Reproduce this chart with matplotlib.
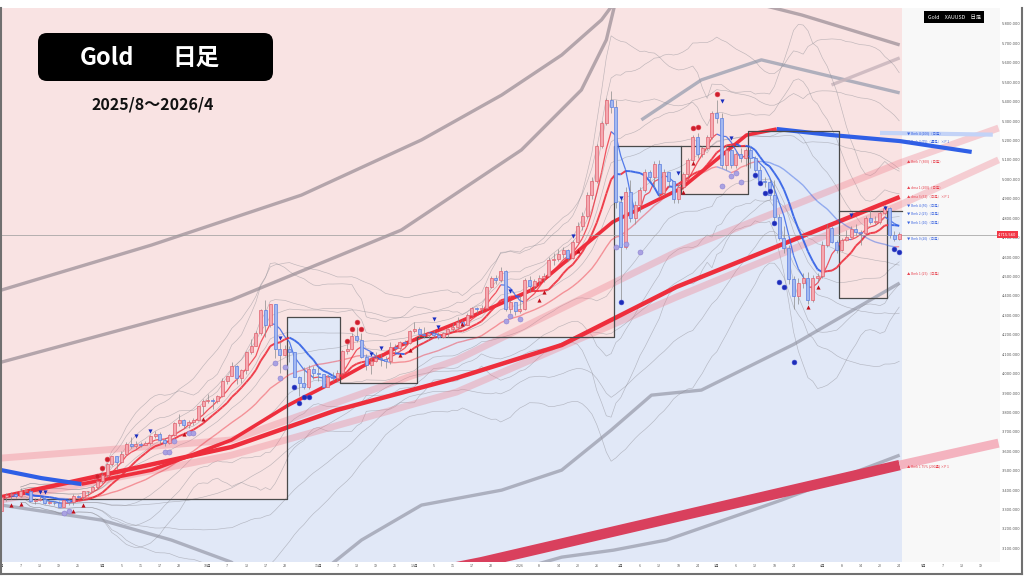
import numpy as np
import pandas as pd
import matplotlib
matplotlib.use("Agg")
import matplotlib.pyplot as plt
import matplotlib.transforms as mtransforms
from matplotlib.patches import FancyBboxPatch
from matplotlib.collections import LineCollection
from matplotlib.lines import Line2D

plt.rcParams['font.family'] = ['Noto Sans CJK JP', 'DejaVu Sans']

# ---- 日足データ (2025/8/1 ～ 2026/4/24) ----
holidays = ['2025-12-25', '2026-01-01', '2026-04-03']
first_open = 3290

aug = [3363, 3373, 3381, 3369, 3397, 3398, 3342, 3348, 3356, 3336, 3336, 3332, 3315, 3347, 3339, 3371, 3365, 3393, 3397, 3416, 3448]
sep = [3476, 3533, 3578, 3545, 3587, 3636, 3626, 3640, 3634, 3643, 3679, 3690, 3659, 3644, 3685, 3746, 3763, 3736, 3749, 3760, 3833, 3858]
oct_ = [3866, 3857, 3886, 3960, 3985, 4040, 3976, 4018, 4110, 4142, 4208, 4326, 4251, 4356, 4125, 4095, 4126, 4111, 3981, 3953, 3930, 4025, 4002]
nov = [4000, 3932, 3980, 3977, 4001, 4116, 4128, 4195, 4171, 4084, 4045, 4067, 4078, 4077, 4065, 4137, 4130, 4163, 4157, 4218]
dec = [4230, 4205, 4200, 4208, 4197, 4190, 4208, 4228, 4240, 4265, 4250, 4303, 4340, 4330, 4340, 4445, 4490, 4480, 4530, 4330, 4370, 4320]
jan = [4330, 4480, 4450, 4475, 4490, 4500, 4585, 4590, 4615, 4636, 4595, 4678, 4760, 4810, 4920, 4990, 5170, 5290, 5409, 5370, 4883]
feb = [4651, 4935, 4800, 4870, 4945, 5040, 5010, 5080, 4930, 5040, 4990, 4900, 4960, 5030, 5100, 5220, 5130, 5160, 5220, 5340]
mar = [5316, 5075, 5150, 5075, 5130, 5110, 5150, 5110, 5050, 4990, 4986, 4920, 4806, 4700, 4646, 4487, 4399, 4466, 4492, 4379, 4492, 4500]
apr = [4662, 4749, 4678, 4636, 4688, 4703, 4744, 4729, 4724, 4800, 4780, 4780, 4826, 4850, 4713, 4693, 4716]

aug_hi = [3365, 3385, 3390, 3390, 3409, 3405, 3404, 3360, 3375, 3360, 3350, 3345, 3345, 3350, 3352, 3378, 3376, 3394, 3398, 3423, 3453]
aug_lo = [3281, 3345, 3355, 3360, 3365, 3380, 3340, 3331, 3345, 3330, 3330, 3323, 3311, 3312, 3325, 3325, 3358, 3351, 3370, 3392, 3404]
sep_hi = [3489, 3540, 3578, 3565, 3600, 3647, 3674, 3655, 3650, 3655, 3685, 3703, 3697, 3670, 3688, 3750, 3791, 3765, 3760, 3770, 3835, 3871]
sep_lo = [3436, 3470, 3525, 3510, 3542, 3585, 3615, 3615, 3620, 3630, 3632, 3670, 3640, 3628, 3640, 3680, 3730, 3720, 3722, 3735, 3758, 3793]
oct_hi = [3895, 3876, 3890, 3976, 3990, 4060, 4045, 4025, 4116, 4180, 4217, 4330, 4380, 4360, 4360, 4160, 4145, 4140, 4110, 3985, 4035, 4046, 4040]
oct_lo = [3850, 3820, 3850, 3880, 3945, 3985, 3945, 3950, 4000, 4100, 4140, 4200, 4190, 4240, 4080, 4005, 4090, 4060, 3980, 3885, 3920, 3920, 3970]
nov_hi = [4035, 4000, 3995, 4010, 4020, 4120, 4150, 4210, 4240, 4210, 4100, 4080, 4110, 4100, 4090, 4160, 4150, 4170, 4175, 4225]
nov_lo = [3960, 3930, 3930, 3960, 3960, 4000, 4100, 4120, 4160, 4080, 4020, 4000, 4060, 4040, 4030, 4050, 4110, 4120, 4140, 4150]
dec_hi = [4265, 4240, 4240, 4215, 4225, 4215, 4215, 4235, 4260, 4290, 4275, 4310, 4345, 4345, 4355, 4450, 4500, 4510, 4550, 4535, 4380, 4370]
dec_lo = [4210, 4190, 4185, 4180, 4190, 4180, 4185, 4190, 4220, 4235, 4240, 4250, 4295, 4310, 4315, 4330, 4440, 4460, 4470, 4320, 4310, 4300]
jan_hi = [4400, 4490, 4500, 4485, 4510, 4520, 4600, 4620, 4640, 4650, 4640, 4690, 4780, 4830, 4935, 5010, 5180, 5300, 5420, 5455, 5410]
jan_lo = [4310, 4325, 4420, 4430, 4455, 4470, 4495, 4560, 4580, 4595, 4580, 4590, 4670, 4740, 4800, 4900, 4980, 5160, 5280, 5340, 4850]
feb_hi = [4900, 4960, 4995, 4890, 4960, 5055, 5050, 5095, 5100, 5055, 5030, 4990, 4975, 5040, 5110, 5230, 5240, 5170, 5230, 5350]
feb_lo = [4370, 4640, 4780, 4770, 4830, 4935, 4990, 4960, 4910, 4920, 4960, 4880, 4880, 4950, 5010, 5090, 5110, 5115, 5150, 5210]
mar_hi = [5410, 5340, 5170, 5160, 5140, 5160, 5160, 5165, 5120, 5070, 5010, 5000, 4995, 4820, 4760, 4660, 4500, 4490, 4520, 4525, 4510, 4520]
mar_lo = [5290, 5060, 5050, 5060, 5060, 5090, 5070, 5060, 5040, 4980, 4960, 4900, 4780, 4690, 4620, 4460, 4330, 4360, 4440, 4360, 4370, 4470]
apr_hi = [4680, 4770, 4760, 4690, 4700, 4740, 4760, 4770, 4740, 4810, 4840, 4810, 4835, 4870, 4860, 4735, 4730]
apr_lo = [4490, 4650, 4670, 4620, 4630, 4680, 4700, 4715, 4660, 4720, 4770, 4770, 4770, 4815, 4700, 4680, 4690]

last_price = 4715.56

# 雲の段 (開始バー番号 / 価格)
step_bar = [0, 60, 71, 87, 128, 142, 156, 175, 185]
step_level = [3354, 4291, 3951, 4188, 5170, 4925, 5249, 4389, 4837]
box_tops = [(142, 156, 5170), (175, 185, 4837)]

# 移動平均など (バー番号, 価格)
ma_a_down = [(0, 3503), (8.3, 3462), (16.7, 3431)]
ma_a_up = [(16.7, 3431), (31.3, 3503), (47.9, 3658), (59.8, 3838), (70.8, 3977), (83.3, 4147),
           (94.8, 4260), (110.4, 4430), (127.3, 4780), (141.7, 4955), (155.2, 5228), (161.5, 5259)]
ma_a_flat = [(161.5, 5259), (172.9, 5228), (187.1, 5197), (202.1, 5141)]
ma_b = [(0, 3364), (47.9, 3622), (69.8, 3812), (94.8, 3977), (116.7, 4147), (140.6, 4446), (187.1, 4909)]
band_p1 = [(0, 3565), (47.9, 3658), (94.8, 4070), (140.6, 4626), (187.1, 5084), (207.7, 5264)]
band_p2 = [(0, 3349), (47.9, 3580), (94.8, 3905), (140.6, 4394), (187.1, 4868), (207.7, 5100)]
ma_c = [(83.3, 2947), (100, 3029), (187.1, 3529)]
ma_c_ext = [(187.1, 3529), (207.7, 3642)]
bmk_band = [(183, 5239), (206.5, 5230)]

gray_thick = {
    'g1': [(0, 4430), (31.3, 4662), (62.5, 4919), (87.5, 5203), (104.2, 5434), (116.7, 5640), (125, 5821), (128.1, 5924)],
    'g2': [(0, 4059), (47.9, 4379), (83.3, 4739), (108.3, 5151), (120.8, 5460), (126, 5718), (128, 5924)],
    'tr1': [(154.2, 5924), (166.7, 5846), (187.1, 5692)],
    'tr2': [(133.3, 5306), (145.8, 5512), (158.3, 5615), (187.1, 5445)],
    'tr3': [(172.9, 5486), (187.1, 5625)],
    'bl1': [(0, 3323), (20.8, 3246), (35.4, 3143), (47.9, 3029), (52, 2937)],
    'bl2': [(64.6, 2937), (75, 3143), (87.5, 3323), (104.2, 3400), (116.7, 3503), (127, 3709), (135.4, 3889),
            (145.8, 3915), (165, 4150), (187.1, 4466)],
    'low': [(100, 2937), (116.7, 3055), (127.5, 3091), (138.5, 3143), (162.5, 3349), (187.1, 3580)],
}

# シグナル (バー番号, 価格)
blue_dots = [(61, 3930), (62, 3850), (63, 3880), (64, 3880), (129, 4370), (165, 4060), (157, 5020), (158, 4980),
             (159, 4930), (160, 4940), (161, 4775), (162, 4470), (163, 4445), (186, 4640), (187, 4625)]
purple_dots = [(57, 4055), (58, 3977), (59, 4034), (128, 4650), (130, 4667), (133, 4626), (105, 4270), (106, 4296),
               (108, 4281), (150, 4966), (152, 5017), (153, 5033), (154, 4986), (34, 3596), (35, 3596), (36, 3652),
               (39, 3694), (40, 3694), (13, 3282), (14, 3292)]
red_dots = [(20, 3472), (21, 3513), (22, 3560), (72, 4167), (73, 4229), (74, 4265), (75, 4229), (144, 5264),
            (145, 5270), (149, 5440)]
down_marks = [(8, 3390), (9, 3390), (28, 3678), (31, 3704), (58, 4183), (77, 4100), (79, 4131), (90, 4281), (91, 4240),
              (106, 4425), (119, 4708), (129, 4904), (141, 5033), (150, 5403), (152, 5213), (177, 4816), (184, 4852)]
up_marks = [(2, 3323), (4, 3328), (15, 3292), (17, 3323), (38, 3689), (42, 3766), (83, 4095), (85, 4121), (96, 4255),
            (112, 4379), (113, 4420), (120, 4631), (142, 4935), (144, 5084), (168, 4343), (170, 4446)]

side_labels = ['▼ Bmk 4 (100)（日足）', '▼ Bmk 3 (75)（週足）×P 1', '▲ Bmk 7 (300)（日足）', '▲ dma 1 (200)（日足）',
               '▲ dma 3 (52)（日足）×P 1', '▼ Bmk 4 (50)（日足）', '▼ Bmk 2 (25)（日足）', '▼ Bmk 1 (10)（日足）',
               '▼ Bmk 0 (20)（日足）', '▲ Bmk 1 (25)（日足）', '▲ Bmk 1 75% (200週) ×P 1']
side_prices = [5239, 5197, 5094, 4961, 4914, 4868, 4827, 4780, 4698, 4518, 3524]
side_up = [False, False, True, True, True, False, False, False, False, True, True]

tick_dates = ['2025-08-01', '2025-08-07', '2025-08-13', '2025-08-19', '2025-08-25', '2025-09-01', '2025-09-05',
              '2025-09-11', '2025-09-17', '2025-09-23', '2025-10-01', '2025-10-07', '2025-10-13', '2025-10-17',
              '2025-10-23', '2025-11-03', '2025-11-07', '2025-11-13', '2025-11-19', '2025-11-25', '2025-12-01',
              '2025-12-05', '2025-12-11', '2025-12-17', '2025-12-23', '2026-01-02', '2026-01-08', '2026-01-14',
              '2026-01-20', '2026-01-26', '2026-02-02', '2026-02-06', '2026-02-12', '2026-02-18', '2026-02-24',
              '2026-03-02', '2026-03-06', '2026-03-12', '2026-03-18', '2026-03-24', '2026-04-01', '2026-04-08',
              '2026-04-14', '2026-04-20', '2026-04-24', '2026-05-01', '2026-05-07', '2026-05-13', '2026-05-19']
tick_texts = ['8月', '7', '13', '19', '25', '9月', '5', '11', '17', '23', '10月', '7', '13', '17', '23', '11月', '7',
              '13', '19', '25', '12月', '5', '11', '17', '23', '2026', '8', '14', '20', '26', '2月', '6', '12', '18',
              '24', '3月', '6', '12', '18', '24', '4月', '8', '14', '20', '24', '5月', '7', '13', '19']

# ---- 準備 ----
days = pd.bdate_range('2025-08-01', '2026-05-29')
days = days[~days.isin(pd.to_datetime(holidays))]
pos = {d: i for i, d in enumerate(days)}

closes = np.array(aug + sep + oct_ + nov + dec + jan + feb + mar + apr, dtype=float)
highs = np.array(aug_hi + sep_hi + oct_hi + nov_hi + dec_hi + jan_hi + feb_hi + mar_hi + apr_hi, dtype=float)
lows = np.array(aug_lo + sep_lo + oct_lo + nov_lo + dec_lo + jan_lo + feb_lo + mar_lo + apr_lo, dtype=float)
opens = np.concatenate([[first_open], closes[:-1]])
highs = np.maximum(highs, np.maximum(opens, closes))
lows = np.minimum(lows, np.minimum(opens, closes))
n = len(closes)
xs = np.arange(n)

RED = '#ee2e3c'
BLUE = '#2f5fe6'
PINK_BG = '#f9e3e3'
BLUE_BG = '#e1e8f7'

fig = plt.figure(figsize=(10.24, 5.76), dpi=100, facecolor='white')
ax = fig.add_axes([0, 14 / 576, 1000 / 1024, 554 / 576])
ax.set_facecolor('#f8f8f8')
ax.set_xlim(-0.3, 208.0)
ax.set_ylim(3030, 5882)
y0, y1 = ax.get_ylim()

# 背景 (雲の上=ピンク, 下=ブルー)
edges = [b - 0.5 for b in step_bar] + [n - 0.5]
lv = step_level + [step_level[-1]]
ax.fill_between(edges, lv, y1, step='post', color=PINK_BG, lw=0, zorder=0)
ax.fill_between(edges, y0, lv, step='post', color=BLUE_BG, lw=0, zorder=0)


def draw_pts(pts, **kw):
    a = np.array(pts)
    ax.plot(a[:, 0], a[:, 1], solid_capstyle='butt', **kw)


# 太い灰色ライン
for key, pts in gray_thick.items():
    col = '#a89aa2' if key in ('g1', 'g2', 'tr1') else '#a3a6b6'
    if key == 'tr3':
        col = '#c9b6bd'
    draw_pts(pts, color=col, lw=2.4, alpha=0.85, zorder=1)

# ボリンジャーバンド (細い灰色)
s = pd.Series(closes)
for win in (20, 40):
    mid = s.rolling(win, min_periods=5).mean()
    sd = s.rolling(win, min_periods=5).std()
    for k in (1, 2, 3):
        ax.plot(xs, mid + k * sd, color='#8e8e96', lw=0.45, alpha=0.55, zorder=1)
        ax.plot(xs, mid - k * sd, color='#8e8e96', lw=0.45, alpha=0.55, zorder=1)

# ピンクの帯 / 長期線
draw_pts(band_p1, color='#f07d8c', lw=5, alpha=0.35, zorder=2)
draw_pts(band_p2, color='#f07d8c', lw=5, alpha=0.35, zorder=2)
draw_pts(ma_c, color='#d9405d', lw=7.5, zorder=2)
draw_pts(ma_c_ext, color='#f4b3bf', lw=6.5, zorder=2)
draw_pts(ma_b, color=RED, lw=3.2, zorder=3)
draw_pts(ma_a_down, color=BLUE, lw=3.0, zorder=3)
draw_pts(ma_a_up, color=RED, lw=2.6, zorder=3)
draw_pts(ma_a_flat, color=BLUE, lw=3.0, zorder=3)
draw_pts(bmk_band, color='#c3d3f7', lw=3, zorder=2)

# 雲の段ライン
ax.step(edges, lv, where='post', color='#4a4a4a', lw=0.9, zorder=3)
for a, b, lvl in box_tops:
    ax.plot([a - 0.5, b - 0.5], [lvl, lvl], color='#4a4a4a', lw=0.9, zorder=3)


# 短期移動平均 (上昇=赤, 下降=青)
def slope_line(vals, lw, alpha):
    v = np.asarray(vals)
    seg = np.stack([np.column_stack([xs[:-1], v[:-1]]), np.column_stack([xs[1:], v[1:]])], axis=1)
    cols = [RED if v[i + 1] >= v[i] else BLUE for i in range(len(v) - 1)]
    ax.add_collection(LineCollection(seg, colors=cols, linewidths=lw, alpha=alpha, zorder=4))


slope_line(s.rolling(5, min_periods=1).mean(), 0.9, 0.8)
slope_line(s.rolling(10, min_periods=1).mean(), 1.4, 0.9)
slope_line(s.rolling(25, min_periods=1).mean(), 1.0, 0.45)

# ローソク足
up = closes >= opens
ax.vlines(xs, lows, highs, color='#8a8a8a', lw=0.5, zorder=5)
body_lo = np.minimum(opens, closes)
body_h = np.maximum(np.abs(closes - opens), 4)
ax.bar(xs[up], body_h[up], bottom=body_lo[up], width=0.62, color='#f5a9b1', edgecolor='#e0616e', lw=0.5, zorder=6)
ax.bar(xs[~up], body_h[~up], bottom=body_lo[~up], width=0.62, color='#a3b8f0', edgecolor='#5b7ee0', lw=0.5, zorder=6)

# シグナル
def scat(pts, **kw):
    a = np.array(pts)
    ax.scatter(a[:, 0], a[:, 1], zorder=7, **kw)


scat(purple_dots, s=13, c='#aaa2e2', edgecolors='#8c82d2', linewidths=0.4)
scat(blue_dots, s=12, c='#1d2db8', edgecolors='#3a48d0', linewidths=0.4)
scat(red_dots, s=12, c='#cf1f2c', edgecolors='#e04050', linewidths=0.4)
scat(down_marks, s=9, marker='v', c='#1a2ec0', linewidths=0)
scat(up_marks, s=9, marker='^', c='#c0101c', linewidths=0)

# 現在値
ax.axhline(last_price, color='#9a9a9a', lw=0.5, zorder=4)
trans = mtransforms.blended_transform_factory(ax.transAxes, ax.transData)
ax.text(0.998, last_price, f'{last_price:,.3f}', transform=trans, ha='left', va='center', fontsize=2.6,
        color='white', family=['DejaVu Sans'], zorder=9,
        bbox=dict(boxstyle='square,pad=0.35', fc='#f23645', ec='none'))

# 右側ラベル
for txt, p, is_up in zip(side_labels, side_prices, side_up):
    ax.text(n + 0.6, p, txt, fontsize=2.4, color='#e8404c' if is_up else '#3a64e0', va='center', zorder=8)

# 軸
ax.yaxis.tick_right()
yt = np.arange(3100, 5801, 100)
ax.set_yticks(yt)
ax.set_yticklabels([f'{v:,.3f}' for v in yt], fontsize=2.6, color='#555555', family=['DejaVu Sans'])
ax.set_xticks([pos[pd.Timestamp(d)] for d in tick_dates])
ax.set_xticklabels(tick_texts, fontsize=2.6, color='#555555')
ax.tick_params(length=0, pad=1.2)
for sp in ax.spines.values():
    sp.set_visible(False)

# タイトル
fig.patches.append(FancyBboxPatch((0.38, 4.95), 2.35, 0.48, boxstyle='round,pad=0,rounding_size=0.09',
                                  transform=fig.dpi_scale_trans, fc='black', ec='none', zorder=10))
fig.text(107 / 1024, 1 - 58 / 576, 'Gold', color='white', fontsize=17, fontweight='bold', ha='center',
         va='center', zorder=11)
fig.text(196 / 1024, 1 - 58 / 576, '日足', color='white', fontsize=17, fontweight='bold', ha='center',
         va='center', zorder=11)
fig.text(153 / 1024, 1 - 104 / 576, '2025/8～2026/4', color='#111111', fontsize=11.5, fontweight='bold',
         ha='center', va='center', zorder=11)
fig.text(954 / 1024, 1 - 17 / 576, 'Gold　XAUUSD　日足', color='white', fontsize=3.8, ha='center', va='center',
         zorder=11, bbox=dict(boxstyle='square,pad=0.7', fc='black', ec='none'))

# 外枠
for xy in ([(0.001, 0.001), (0.004, 0.986)], [(0.001, 0.998), (0.004, 0.004)], [(0.998, 0.998), (0.004, 0.986)]):
    fig.add_artist(Line2D(xy[0], xy[1], color='#707070', lw=1.5))

fig.savefig('out.png', dpi=100, facecolor=fig.get_facecolor())
